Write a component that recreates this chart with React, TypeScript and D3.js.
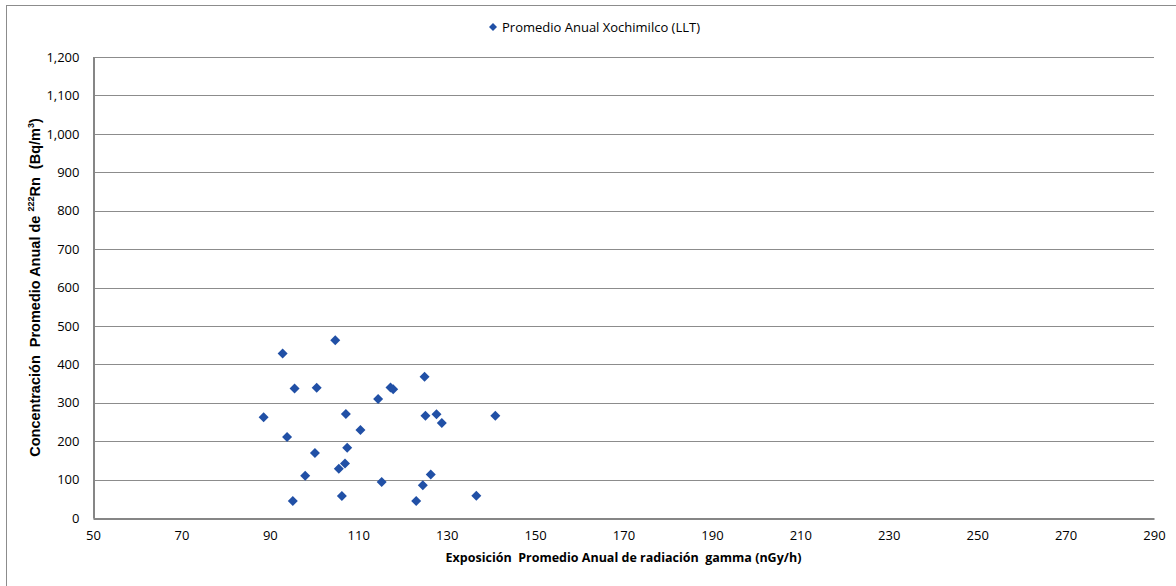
import React, { useEffect, useRef } from "react";
import * as d3 from "d3";

// Exposición gamma (nGy/h) vs concentración de 222Rn (Bq/m3)
const gammaValues = [
  88.6, 92.9, 93.9, 95.2, 95.6, 98.0, 100.2, 100.6, 104.8, 105.6, 106.3, 107.0, 107.2, 107.5,
  110.5, 114.5, 115.3, 117.3, 117.9, 123.1, 124.6, 125.0, 125.2, 126.4, 127.7, 128.9, 136.7, 141.0,
];
const radonValues = [
  262, 428, 211, 44, 337, 110, 169, 339, 463, 128, 57, 142, 271, 183,
  229, 310, 94, 340, 335, 44, 85, 368, 266, 113, 270, 247, 58, 266,
];
const xTicks = [50, 70, 90, 110, 130, 150, 170, 190, 210, 230, 250, 270, 290];
const yTicks = [0, 100, 200, 300, 400, 500, 600, 700, 800, 900, 1000, 1100, 1200];
const seriesName = "Promedio Anual Xochimilco (LLT)";

const W = 1176;
const H = 586;
const margin = { left: 93, right: 22, top: 57, bottom: 68 };
const markerColor = "#2150a6";
const font = "'Open Sans', 'Liberation Sans', sans-serif";

// square diamond of half-diagonal r
const diamondPath = (r: number) => `M0,${-r}L${r},0L0,${r}L${-r},0Z`;

const App = () => {
  const svgRef = useRef<SVGSVGElement>(null);

  useEffect(() => {
    const svg = d3.select(svgRef.current);
    svg.selectAll("*").remove();

    const x = d3.scaleLinear().domain([50, 290]).range([margin.left, W - margin.right]);
    const y = d3.scaleLinear().domain([0, 1200]).range([H - margin.bottom, margin.top]);

    // outer frame
    svg.append("line")
      .attr("x1", 6.5).attr("x2", 6.5).attr("y1", 5).attr("y2", H)
      .attr("stroke", "#8c8c8c").attr("stroke-width", 1);
    svg.append("line")
      .attr("x1", 6).attr("x2", W).attr("y1", 5.5).attr("y2", 5.5)
      .attr("stroke", "#8c8c8c").attr("stroke-width", 1);

    // gridlines
    svg.append("g")
      .selectAll("line")
      .data(yTicks.filter((d) => d > 0))
      .enter()
      .append("line")
      .attr("x1", x(50)).attr("x2", x(290))
      .attr("y1", (d) => Math.round(y(d)) + 0.5)
      .attr("y2", (d) => Math.round(y(d)) + 0.5)
      .attr("stroke", "#8c8c8c").attr("stroke-width", 1);

    // axes
    const xAxis = d3.axisBottom(x).tickValues(xTicks).tickSize(0).tickPadding(12);
    const gx = svg.append("g")
      .attr("transform", `translate(0,${Math.round(y(0)) + 0.5})`)
      .call(xAxis);
    gx.select(".domain").attr("stroke", "#868686").attr("stroke-width", 2);
    gx.selectAll("text")
      .attr("fill", "#000")
      .style("font-family", font)
      .style("font-size", "13px");

    const yAxis = d3.axisLeft(y).tickValues(yTicks).tickSize(0).tickPadding(14)
      .tickFormat((d) => d3.format(",")(d as number));
    const gy = svg.append("g")
      .attr("transform", `translate(${Math.round(x(50)) + 0.5},0)`)
      .call(yAxis);
    gy.select(".domain").attr("stroke", "#868686").attr("stroke-width", 2);
    gy.selectAll("text")
      .attr("fill", "#000")
      .style("font-family", font)
      .style("font-size", "13px");

    // points
    svg.append("g")
      .selectAll("path")
      .data(gammaValues.map((g, i) => ({ g, r: radonValues[i] })))
      .enter()
      .append("path")
      .attr("d", diamondPath(5))
      .attr("transform", (d) => `translate(${x(d.g)},${y(d.r)})`)
      .attr("fill", markerColor);

    // legend
    const lg = svg.append("g").attr("transform", "translate(493,27)");
    lg.append("path")
      .attr("d", diamondPath(4))
      .attr("fill", markerColor);
    lg.append("text")
      .attr("x", 9).attr("y", 4.5)
      .style("font-family", font)
      .style("font-size", "13px")
      .text(seriesName);

    // axis titles
    svg.append("text")
      .attr("x", (x(50) + x(290)) / 2)
      .attr("y", 562)
      .attr("text-anchor", "middle")
      .style("font-family", font)
      .style("font-size", "12.5px")
      .style("font-weight", "700")
      .style("white-space", "pre")
      .text("Exposición  Promedio Anual de radiación  gamma (nGy/h)");

    const yt = svg.append("text")
      .attr("transform", `translate(40,${(y(0) + y(1200)) / 2}) rotate(-90)`)
      .attr("text-anchor", "middle")
      .style("font-family", "'Liberation Sans', Arial, sans-serif")
      .style("font-size", "14.5px")
      .style("font-weight", "700")
      .style("white-space", "pre");
    yt.append("tspan").text("Concentración  Promedio Anual de ");
    yt.append("tspan").attr("dy", -6).style("font-size", "9px").text("222");
    yt.append("tspan").attr("dy", 6).text("Rn  (Bq/m");
    yt.append("tspan").attr("dy", -6).style("font-size", "9px").text("3");
    yt.append("tspan").attr("dy", 6).text(")");
  }, []);

  return (
    <svg
      ref={svgRef}
      width={W}
      height={H}
      style={{ position: "absolute", left: 0, top: 0, display: "block", background: "#fff" }}
    ></svg>
  );
};

export default App;
